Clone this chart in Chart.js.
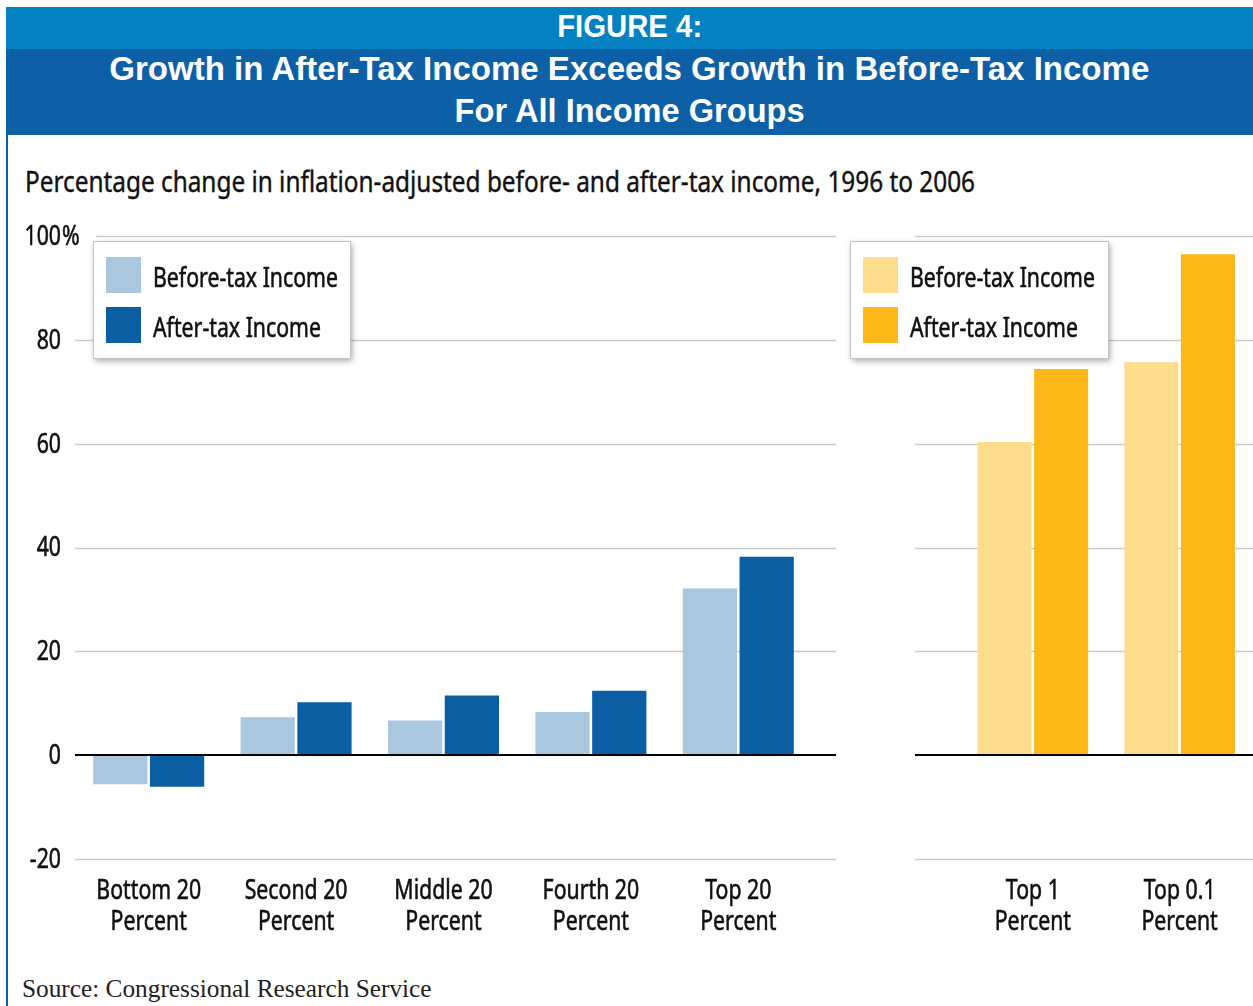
<!DOCTYPE html>
<html>
<head>
<meta charset="utf-8">
<script src="https://cdn.jsdelivr.net/npm/chart.js@4.4.1/dist/chart.umd.min.js"></script>
<style>
    html, body { margin: 0; padding: 0; background: #fff; }
    #page { position: relative; width: 1253px; height: 1006px; overflow: hidden; }
    .band { position: absolute; left: 6px; right: 0; color: #fff; text-align: center;
            font-family: 'Liberation Sans', Arial, sans-serif; font-weight: bold; }
    .band span { display: inline-block; transform-origin: center top; white-space: nowrap; }
    #band1 { top: 7px; height: 42px; background: #0481c0; font-size: 31px; line-height: 40px; }
    #band2 { top: 49px; height: 86px; background: #0e60a6; font-size: 34px; line-height: 42px; }
    #band2 div { position: relative; top: -2px; }
    #rule { position: absolute; left: 6px; top: 135px; width: 2px; height: 871px; background: #0e60a6; }
    #subtitle { position: absolute; left: 25px; top: 163px; font-size: 29px; line-height: 36px; color: #111;
                font-family: 'Noto Sans', sans-serif; white-space: nowrap; transform-origin: left top;
                -webkit-text-stroke: 0.4px #111; }
    #source { position: absolute; left: 22px; top: 974px; font-size: 25.3px; color: #222;
              font-family: 'Liberation Serif', 'DejaVu Serif', serif; white-space: nowrap; }
    .box { position: absolute; top: 200px; height: 760px; }
    #leftBox { left: 0; width: 840px; }
    #rightBox { left: 840px; width: 413px; }
</style>
</head>
<body>
<div id="page">
    <div id="band1" class="band"><span id="fig">FIGURE 4:</span></div>
    <div id="band2" class="band"><div>
        <span id="head1">Growth in After-Tax Income Exceeds Growth in Before-Tax Income</span><br>
        <span id="head2">For All Income Groups</span>
    </div></div>
    <div id="rule"></div>
    <div id="subtitle">Percentage change in inflation-adjusted before- and after-tax income, 1996 to 2006</div>
    <div class="box" id="leftBox"><canvas id="lowChart"></canvas></div>
    <div class="box" id="rightBox"><canvas id="topChart"></canvas></div>
    <div id="source">Source: Congressional Research Service</div>
</div>
<script>
// Income groups and percentage changes, 1996 to 2006
const lowGroups = [['Bottom 20', 'Percent'], ['Second 20', 'Percent'], ['Middle 20', 'Percent'], ['Fourth 20', 'Percent'], ['Top 20', 'Percent']];
const lowBefore = [-5.6, 7.3, 6.7, 8.3, 32.1];
const lowAfter = [-6.1, 10.2, 11.5, 12.4, 38.2];

const topGroups = [['Top 1', 'Percent'], ['Top 0.1', 'Percent']];
const topBefore = [60.3, 75.7];
const topAfter = [74.4, 96.5];

const yTicks = [-20, 0, 20, 40, 60, 80, 100];
const seriesNames = ['Before-tax Income', 'After-tax Income'];

const FONT = "'Noto Sans', sans-serif";
const SQUEEZE = 0.76; // horizontal squeeze for a condensed look
Chart.defaults.font.family = FONT;

// squeeze html headings to their set widths
function fitWidth(id, target) {
    const el = document.getElementById(id);
    const w = el.getBoundingClientRect().width;
    el.style.transform = 'scaleX(' + (target / w) + ')';
}
fitWidth('fig', 145);
fitWidth('head1', 1040);
fitWidth('head2', 350);
fitWidth('subtitle', 950);

function squeezeText(ctx, text, x, y, align) {
    ctx.save();
    ctx.translate(x, y);
    ctx.scale(SQUEEZE, 1);
    ctx.textAlign = align;
    ctx.lineWidth = 0.6;
    ctx.strokeStyle = ctx.fillStyle;
    ctx.fillText(text, 0, 0);
    ctx.strokeText(text, 0, 0);
    ctx.restore();
}

// horizontal grid lines, wider than the plot area, zero line on top of the bars
const gridPlugin = {
    id: 'wideGrid',
    beforeDatasetsDraw(chart, args, opts) {
        const y = chart.scales.y;
        const ctx = chart.ctx;
        ctx.save();
        ctx.strokeStyle = '#cacaca';
        ctx.lineWidth = 1.5;
        yTicks.forEach(v => {
            if (v === 0) return;
            const py = Math.round(y.getPixelForValue(v)) + 0.5;
            const x0 = (v === yTicks[yTicks.length - 1] && opts.topStart) ? opts.topStart : opts.from;
            ctx.beginPath();
            ctx.moveTo(x0, py);
            ctx.lineTo(opts.to, py);
            ctx.stroke();
        });
        ctx.restore();
    },
    afterDatasetsDraw(chart, args, opts) {
        const py = Math.round(chart.scales.y.getPixelForValue(0));
        const ctx = chart.ctx;
        ctx.save();
        ctx.strokeStyle = '#000';
        ctx.lineWidth = 2;
        ctx.beginPath();
        ctx.moveTo(opts.from, py);
        ctx.lineTo(opts.to, py);
        ctx.stroke();
        ctx.restore();
    }
};

// category names under the bars and value labels on the left
const labelPlugin = {
    id: 'squeezedLabels',
    afterDraw(chart, args, opts) {
        const ctx = chart.ctx;
        const xs = chart.scales.x;
        const ys = chart.scales.y;
        ctx.save();
        ctx.fillStyle = '#111';
        ctx.textBaseline = 'middle';
        ctx.font = '28px ' + FONT;
        chart.data.labels.forEach((lines, i) => {
            const px = xs.getPixelForValue(i);
            lines.forEach((t, j) => squeezeText(ctx, t, px, chart.chartArea.bottom + 32 + j * 31, 'center'));
        });
        if (opts.yLabels) {
            yTicks.forEach(v => {
                const py = ys.getPixelForValue(v) + 1;
                squeezeText(ctx, String(v), 61, py, 'right');
                if (v === yTicks[yTicks.length - 1]) squeezeText(ctx, '%', 62, py, 'left');
            });
        }
        ctx.restore();
    }
};

// boxed legend with a soft drop shadow
const legendPlugin = {
    id: 'boxLegend',
    afterDraw(chart, args, opts) {
        const ctx = chart.ctx;
        ctx.save();
        ctx.shadowColor = 'rgba(0,0,0,0.35)';
        ctx.shadowBlur = 6;
        ctx.shadowOffsetX = 2;
        ctx.shadowOffsetY = 3;
        ctx.fillStyle = '#fff';
        ctx.fillRect(opts.x, opts.y, opts.w, opts.h);
        ctx.restore();
        ctx.save();
        ctx.strokeStyle = '#c4c4c4';
        ctx.lineWidth = 1;
        ctx.strokeRect(opts.x + 0.5, opts.y + 0.5, opts.w, opts.h);
        ctx.font = '28px ' + FONT;
        ctx.textBaseline = 'middle';
        chart.data.datasets.forEach((ds, i) => {
            const top = opts.y + 16 + i * 50;
            ctx.fillStyle = ds.backgroundColor;
            ctx.fillRect(opts.x + 13, top, 35, 36);
            ctx.fillStyle = '#111';
            squeezeText(ctx, ds.label, opts.x + 60, top + 22, 'left');
        });
        ctx.restore();
    }
};

function makeChart(id, groups, before, after, colors, extra) {
    return new Chart(document.getElementById(id), {
        type: 'bar',
        data: {
            labels: groups,
            datasets: [
                { label: seriesNames[0], data: before, backgroundColor: colors[0] },
                { label: seriesNames[1], data: after, backgroundColor: colors[1] }
            ]
        },
        options: {
            responsive: true,
            maintainAspectRatio: false,
            animation: false,
            categoryPercentage: 0.77,
            barPercentage: 0.956,
            layout: { padding: extra.padding },
            plugins: {
                legend: { display: false },
                tooltip: { enabled: false },
                wideGrid: extra.grid,
                boxLegend: extra.legend,
                squeezedLabels: { yLabels: extra.yLabels }
            },
            scales: {
                x: {
                    grid: { display: false },
                    border: { display: false },
                    ticks: { display: false },
                    afterFit(scale) { scale.height = 101; }
                },
                y: {
                    display: false,
                    min: -20,
                    max: 100,
                    afterBuildTicks(scale) { scale.ticks = yTicks.map(v => ({ value: v })); },
                    afterFit(scale) { scale.width = 0; }
                }
            }
        },
        plugins: [gridPlugin, legendPlugin, labelPlugin]
    });
}

makeChart('lowChart', lowGroups, lowBefore, lowAfter, ['#a9c8e0', '#0c5ea3'], {
    yLabels: true,
    padding: { top: 36, right: 28, left: 75, bottom: 0 },
    grid: { from: 75, to: 836, topStart: 96 },
    legend: { x: 93, y: 41, w: 257, h: 117 }
});

makeChart('topChart', topGroups, topBefore, topAfter, ['#fddc8c', '#fdb719'], {
    yLabels: false,
    padding: { top: 36, right: 0, left: 119.5, bottom: 0 },
    grid: { from: 75, to: 413 },
    legend: { x: 10, y: 41, w: 258, h: 117 }
});
</script>
</body>
</html>
